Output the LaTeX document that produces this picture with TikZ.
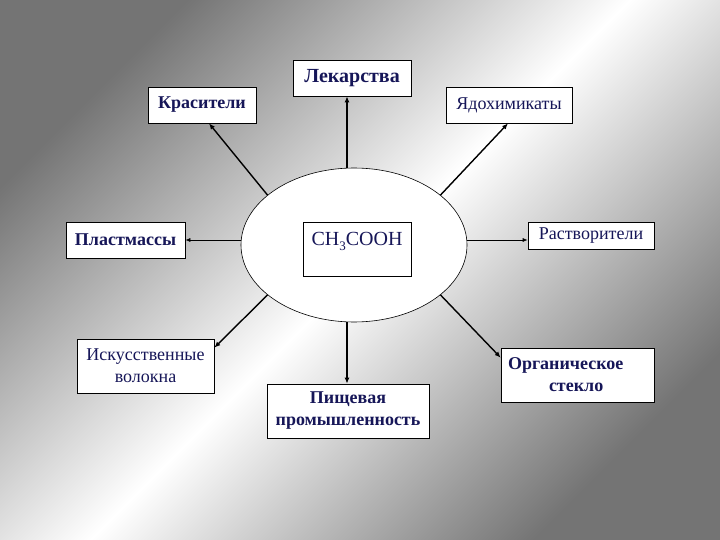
\documentclass[tikz,border=0pt]{standalone}
\usepackage{fontspec}
\setmainfont{Liberation Serif}
\usetikzlibrary{arrows.meta,calc,shapes.geometric}
\definecolor{bgdark}{RGB}{116,116,116}
\definecolor{txt}{RGB}{22,22,88}
\begin{document}
\begin{tikzpicture}[x=1pt,y=-1pt,
  box/.style={draw, fill=white, line width=0.7pt, inner sep=0pt, text=txt,
    font=\fontsize{18}{22}\selectfont, align=center},
  bbox/.style={box, font=\fontsize{18}{22}\selectfont\bfseries},
  arr/.style={-{Latex[length=6pt,width=5pt]}, line width=1.4pt},
  thinarr/.style={-{Latex[length=5pt,width=4pt]}, line width=0.7pt}]
\useasboundingbox (0,0) rectangle (720,540);
\shade[top color=bgdark, bottom color=bgdark, middle color=white, shading angle=45] (0,0) rectangle (720,540);

\node[draw, ellipse, fill=white, line width=0.6pt, minimum width=226pt, minimum height=154pt, inner sep=0pt] (ell) at (354,245) {};

\node[bbox, minimum width=118pt, minimum height=36pt, font=\fontsize{20}{24}\selectfont\bfseries] (lek) at (352,78) {Лекарства};
\node[bbox, minimum width=108pt, minimum height=36pt] (kras) at (202,105) {Красители};
\node[box, minimum width=126pt, minimum height=36pt] (yad) at (509,105) {Ядохимикаты};
\node[bbox, minimum width=119pt, minimum height=36pt] (plast) at (125.5,240) {Пластмассы};
\node[box, minimum width=126pt, minimum height=27pt] (rastv) at (591,235.5) {Растворители};
\node[box, minimum width=137pt, minimum height=54pt] (isk) at (145.5,366) {Искусственные\\волокна};
\node[bbox, minimum width=162pt, minimum height=54pt] (pisch) at (348,411) {Пищевая\\промышленность};
\node[bbox, minimum width=153pt, minimum height=54pt, text width=139pt, align=left] (org) at (577.5,375) {Органическое\\\hspace*{41pt}стекло};
\node[box, anchor=north, minimum width=108pt, inner ysep=3pt, text height=20pt, text depth=28pt, font=\fontsize{20}{24}\selectfont] (ch) at (357,222) {CH\raisebox{-5pt}{\fontsize{13}{13}\selectfont 3}COOH};

\draw[arr] ($(ell.north)+(-7,0)$) -- ($(lek.south)+(-5,0)$);
\draw[arr] (ell.150) -- ($(kras.south)+(7,0)$);
\draw[arr] (ell.30) -- ($(yad.south)+(-1,0)$);
\draw[thinarr] (ell.west |- plast.east) -- (plast.east);
\draw[thinarr] (ell.east |- plast.east) -- (rastv.west |- plast.east);
\draw[arr] (ell.210) -- ($(isk.north east)+(0,9)$);
\draw[arr] ($(ell.south)+(-7,0)$) -- ($(pisch.north)+(-1,0)$);
\draw[arr] (ell.330) -- ($(org.north west)+(0,10)$);
\end{tikzpicture}
\end{document}
